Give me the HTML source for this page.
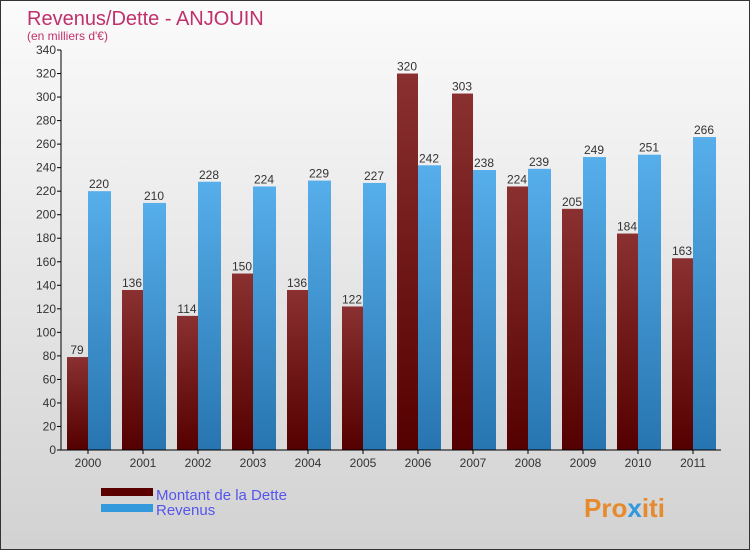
<!DOCTYPE html>
<html><head><meta charset="utf-8"><style>
body{margin:0;width:750px;height:550px;overflow:hidden;font-family:"Liberation Sans",sans-serif}
#wrap{position:relative;width:748px;height:548px;border:1px solid #333;background:linear-gradient(#fbfbfb,#d2d2d2)}
</style></head><body>
<div id="wrap">
<svg id="c" width="748" height="548">
<defs>
<linearGradient id="gd" x1="0" y1="0" x2="0" y2="1"><stop offset="0" stop-color="#8a3030"/><stop offset="1" stop-color="#550000"/></linearGradient>
<linearGradient id="gr" x1="0" y1="0" x2="0" y2="1"><stop offset="0" stop-color="#56aeea"/><stop offset="1" stop-color="#2775b0"/></linearGradient>
</defs>
<text x="26" y="24" font-size="20" fill="#c0306a">Revenus/Dette - ANJOUIN</text>
<text x="26" y="39" font-size="12" fill="#c0306a">(en milliers d'€)</text>
<g id="g"></g>
<rect x="100" y="487" width="52" height="8" fill="#5a0000"/>
<rect x="100" y="503" width="52" height="8" fill="#3399dd"/>
<text x="155" y="499" font-size="15" fill="#5555ee">Montant de la Dette</text>
<text x="155" y="514" font-size="15" fill="#5555ee">Revenus</text>
<text x="583" y="516" font-size="26" font-weight="bold" fill="#e68a2e">Pro<tspan fill="#3399dd">x</tspan>iti</text>
</svg></div>
<script>
const categories=["2000","2001","2002","2003","2004","2005","2006","2007","2008","2009","2010","2011"];
const dette=[79,136,114,150,136,122,320,303,224,205,184,163];
const revenus=[220,210,228,224,229,227,242,238,239,249,251,266];
const ticks=[0,20,40,60,80,100,120,140,160,180,200,220,240,260,280,300,320,340];
const NS="http://www.w3.org/2000/svg",g=document.getElementById('g');
const y0=449,k=400/340,x0=60,step=55;
const Y=v=>y0-v*k;
function el(t,a,txt){const e=document.createElementNS(NS,t);for(const q in a)e.setAttribute(q,a[q]);if(txt!=null)e.textContent=txt;g.appendChild(e);return e;}
ticks.forEach(t=>{
 const l=el('line',{x1:x0-4,x2:x0,y1:Y(t),y2:Y(t),stroke:'#000'});
 
 
 const tx=el('text',{x:x0-5,y:Y(t)+4,'font-size':12,fill:'#333','text-anchor':'end'},t);
 
 
});
categories.forEach((c,i)=>{
 const gx=x0+step*i+6;
 const b1=el('rect',{x:gx,y:Y(dette[i]),width:21,height:dette[i]*k,fill:'url(#gd)'});
 
 
 const b2=el('rect',{x:gx+21,y:Y(revenus[i]),width:23,height:revenus[i]*k,fill:'url(#gr)'});
 
 
 const l1=el('text',{x:gx+10,y:Y(dette[i])-3,'font-size':12,fill:'#333','text-anchor':'middle'},dette[i]);
 
 
 const l2=el('text',{x:gx+32,y:Y(revenus[i])-3,'font-size':12,fill:'#333','text-anchor':'middle'},revenus[i]);
 
 
 const tk=el('line',{x1:gx+21,x2:gx+21,y1:y0,y2:y0+4,stroke:'#000'});
 
 
 const xl=el('text',{x:gx+21,y:y0+17,'font-size':12,fill:'#333','text-anchor':'middle'},c);
 
 
});
const ya=el('line',{x1:x0,x2:x0,y1:Y(340),y2:y0,stroke:'#000'});


const xa=el('line',{x1:x0,x2:x0+step*12,y1:y0,y2:y0,stroke:'#000'});


</script>
</body></html>
